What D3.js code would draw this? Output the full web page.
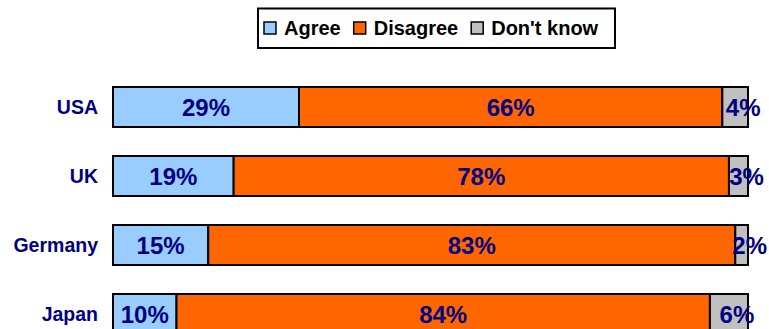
<!DOCTYPE html>
<html><head><meta charset="utf-8">
<script src="https://cdn.jsdelivr.net/npm/d3@7"></script>
<style>html,body{margin:0;padding:0;background:#fff;}</style>
</head><body>
<svg id="chart" width="769" height="329"></svg>
<script>
const categories = ["USA", "UK", "Germany", "Japan"];
const seriesNames = ["Agree", "Disagree", "Don't know"];
const agree = [29, 19, 15, 10];
const disagree = [66, 78, 83, 84];
const dontKnow = [4, 3, 2, 6];
const colors = ["#99CCFF", "#FF6600", "#C0C0C0"];

const svg = d3.select("#chart");
const font = "Arial, 'Liberation Sans', sans-serif";
const navy = "#000080";

const rows = categories.map((c, i) => {
  const vals = [agree[i], disagree[i], dontKnow[i]];
  const total = d3.sum(vals);
  let acc = 0;
  return { cat: c, segs: vals.map((v, k) => { const s = { k, v, x0: acc / total, x1: (acc + v) / total }; acc += v; return s; }) };
});

const x = d3.scaleLinear().domain([0, 1]).range([113, 748]);
const y = d3.scaleBand().domain(categories).range([72.5, 348.5]).paddingInner(0.42).paddingOuter(0.21);

const g = svg.append("g");
const row = g.selectAll("g.row").data(rows).join("g").attr("class", "row");

row.selectAll("rect").data(d => d.segs.map(s => ({ ...s, cat: d.cat }))).join("rect")
  .attr("x", d => x(d.x0)).attr("width", d => x(d.x1) - x(d.x0))
  .attr("y", d => y(d.cat)).attr("height", y.bandwidth())
  .attr("fill", d => colors[d.k]).attr("stroke", "#000").attr("stroke-width", 2);

row.selectAll("text.val").data(d => d.segs.map(s => ({ ...s, cat: d.cat }))).join("text")
  .attr("class", "val")
  .attr("x", d => (x(d.x0) + x(d.x1)) / 2 + (d.k === 2 ? 8 : 0))
  .attr("y", d => y(d.cat) + y.bandwidth() / 2)
  .attr("dy", "0.36em").attr("text-anchor", "middle")
  .attr("font-family", font).attr("font-weight", "bold").attr("font-size", 24)
  .attr("fill", navy).text(d => d.v + "%");

g.selectAll("text.cat").data(categories).join("text").attr("class", "cat")
  .attr("x", 98).attr("y", d => y(d) + y.bandwidth() / 2).attr("dy", "0.36em")
  .attr("text-anchor", "end").attr("font-family", font).attr("font-weight", "bold")
  .attr("font-size", 19.5).attr("fill", navy).text(d => d);

// Legend
const leg = svg.append("g");
leg.append("rect").attr("x", 258).attr("y", 8.5).attr("width", 357).attr("height", 39.5)
  .attr("fill", "#fff").attr("stroke", "#000").attr("stroke-width", 2);
let lx = 264;
seriesNames.forEach((n, i) => {
  leg.append("rect").attr("x", lx).attr("y", 22).attr("width", 12).attr("height", 12)
    .attr("fill", colors[i]).attr("stroke", "#000").attr("stroke-width", 1.5);
  const t = leg.append("text").attr("x", lx + 20).attr("y", 28).attr("dy", "0.36em")
    .attr("font-family", font).attr("font-weight", "bold").attr("font-size", 20)
    .attr("fill", "#000").text(n);
  lx += 20 + t.node().getComputedTextLength() + 13;
});
</script>
</body></html>
